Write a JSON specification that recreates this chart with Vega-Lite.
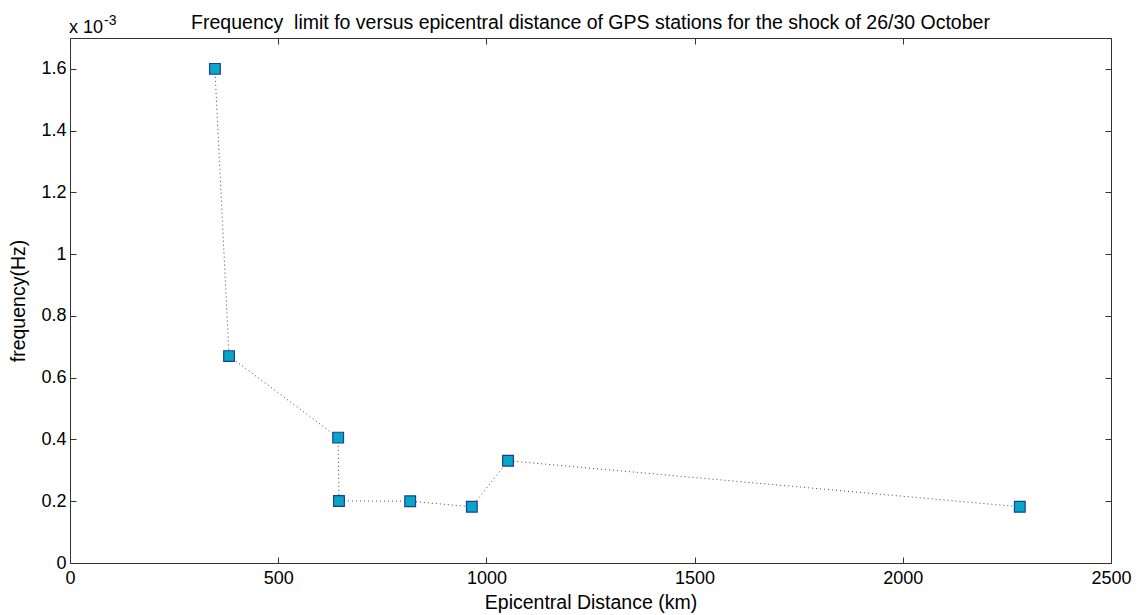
{
  "$schema": "https://vega.github.io/schema/vega-lite/v6.json",
  "width": 1041,
  "height": 525,
  "autosize": "none",
  "padding": {"left": 70, "top": 38, "right": 28, "bottom": 52},
  "background": "white",
  "config": {
    "view": {"stroke": null},
    "font": "Liberation Sans",
    "axis": {"grid": false, "domainColor": "#333", "tickColor": "#333", "labelColor": "#000", "titleColor": "#000", "labelFont": "Liberation Sans", "titleFont": "Liberation Sans", "labelFontSize": 18, "titleFontSize": 19.5, "titleFontWeight": "normal", "tickSize": -6, "domainWidth": 1, "tickWidth": 1, "labelFlush": false, "labelOverlap": false}
  },
  "title": {"text": "Frequency\u00a0 limit fo versus epicentral distance of GPS stations for the shock of 26/30 October", "fontSize": 19.5, "fontWeight": "normal", "font": "Liberation Sans", "color": "#000", "offset": -19, "anchor": "middle"},
  "data": {"values": [
    {"distance": 348, "frequency": 0.0016},
    {"distance": 382, "frequency": 0.00067},
    {"distance": 644, "frequency": 0.000406},
    {"distance": 646, "frequency": 0.000201},
    {"distance": 817, "frequency": 0.0002},
    {"distance": 965, "frequency": 0.000182},
    {"distance": 1052, "frequency": 0.000331},
    {"distance": 2281, "frequency": 0.000182}
  ]},
  "layer": [
    {
      "layer": [
        {
          "mark": {"type": "line", "color": "#444", "strokeWidth": 1, "strokeDash": [1, 3]},
          "encoding": {
            "x": {"field": "distance", "type": "quantitative", "scale": {"domain": [0, 2500], "nice": false, "zero": false}, "axis": {"title": "Epicentral Distance (km)", "values": [0, 500, 1000, 1500, 2000, 2500], "format": "d", "labelPadding": 12, "titlePadding": 6}},
            "y": {"field": "frequency", "type": "quantitative", "scale": {"domain": [0, 0.0017], "nice": false, "zero": false}, "axis": {"title": "frequency(Hz)", "values": [0, 0.0002, 0.0004, 0.0006, 0.0008, 0.001, 0.0012, 0.0014, 0.0016], "labelExpr": "format(datum.value*1000, '.1~f')", "labelPadding": 10, "titlePadding": 12}}
          }
        },
        {
          "mark": {"type": "point", "shape": "square", "filled": true, "size": 115, "fill": "#0aa6c8", "stroke": "#1b3f8f", "strokeWidth": 1.2, "opacity": 1},
          "encoding": {
            "x": {"field": "distance", "type": "quantitative"},
            "y": {"field": "frequency", "type": "quantitative"}
          }
        },
        {
          "data": {"values": [{"distance": 0, "frequency": 0.0017, "label": "x 10"}]},
          "mark": {"type": "text", "align": "left", "baseline": "alphabetic", "fontSize": 18, "dy": -5, "dx": -1, "color": "#000"},
          "encoding": {
            "x": {"field": "distance", "type": "quantitative"},
            "y": {"field": "frequency", "type": "quantitative"},
            "text": {"field": "label"}
          }
        },
        {
          "data": {"values": [{"distance": 0, "frequency": 0.0017, "label": "-3"}]},
          "mark": {"type": "text", "align": "left", "baseline": "alphabetic", "fontSize": 14, "dy": -13, "dx": 34, "color": "#000"},
          "encoding": {
            "x": {"field": "distance", "type": "quantitative"},
            "y": {"field": "frequency", "type": "quantitative"},
            "text": {"field": "label"}
          }
        }
      ]
    },
    {
      "mark": {"type": "point", "opacity": 0},
      "encoding": {
        "x": {"field": "distance", "type": "quantitative", "scale": {"domain": [0, 2500], "nice": false, "zero": false}, "axis": {"orient": "top", "title": null, "labels": false, "values": [0, 500, 1000, 1500, 2000, 2500]}},
        "y": {"field": "frequency", "type": "quantitative", "scale": {"domain": [0, 0.0017], "nice": false, "zero": false}, "axis": {"orient": "right", "title": null, "labels": false, "values": [0, 0.0002, 0.0004, 0.0006, 0.0008, 0.001, 0.0012, 0.0014, 0.0016]}}
      }
    }
  ],
  "resolve": {"scale": {"x": "independent", "y": "independent"}}
}
